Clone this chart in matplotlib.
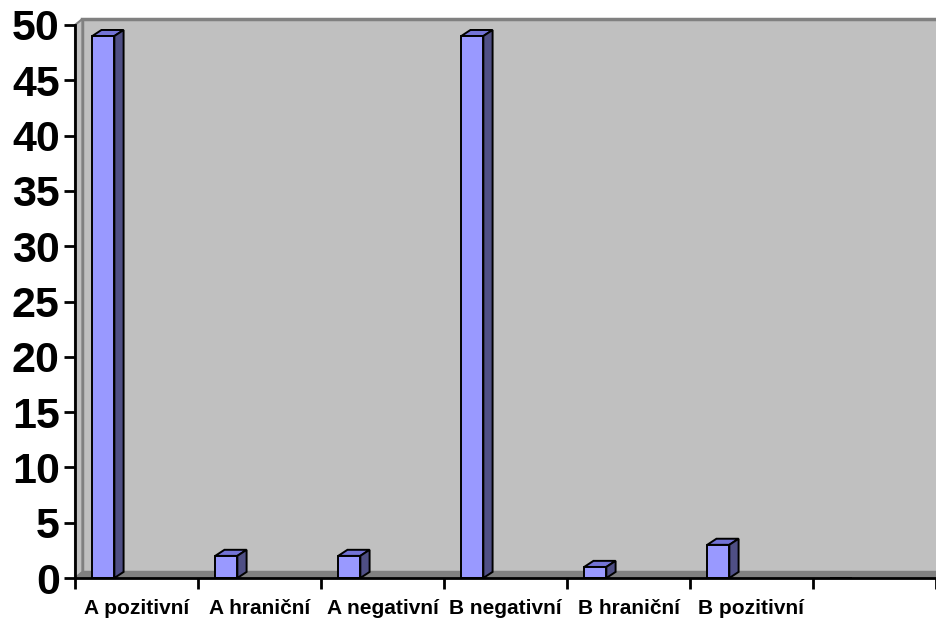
import numpy as np
import matplotlib.pyplot as plt
from matplotlib.patches import Polygon

plt.rcParams['font.family'] = ['Liberation Sans', 'DejaVu Sans']

categories = ['A pozitivní', 'A hraniční', 'A negativní', 'B negativní', 'B hraniční', 'B pozitivní', '']
values = [49, 2, 2, 49, 1, 3, 0]
yticks = [0, 5, 10, 15, 20, 25, 30, 35, 40, 45, 50]

fig = plt.figure(figsize=(9.36, 6.18), dpi=100)
ax = fig.add_axes([75 / 936, 40 / 618, 861 / 936, 553 / 618])
n = len(categories)
ax.set_xlim(0, n)
ax.set_ylim(0, 50)

# 3d depth offsets (data units)
wdx, wdy = 0.06, 0.55   # wall / floor depth
bdx, bdy = 0.075, 0.55  # bar depth

# back wall, side wall, floor
ax.add_patch(Polygon([(wdx, wdy), (n + 1, wdy), (n + 1, 50 + wdy), (wdx, 50 + wdy)],
                     closed=True, facecolor='#C0C0C0', edgecolor='#808080', lw=2.5,
                     clip_on=False, zorder=0))
ax.add_patch(Polygon([(0, 0), (wdx, wdy), (wdx, 50 + wdy), (0, 50)],
                     closed=True, facecolor='#C0C0C0', edgecolor='#808080', lw=1.5,
                     clip_on=False, zorder=0.5))
ax.add_patch(Polygon([(0, 0), (n + 1, 0), (n + 1, wdy), (wdx, wdy)],
                     closed=True, facecolor='#808080', edgecolor='#808080', lw=1,
                     clip_on=False, zorder=0.6))

x = np.arange(n)
w = 0.18
left = x + 0.14
for xi, v in zip(left, values):
    if v <= 0:
        continue
    ax.add_patch(Polygon([(xi, v), (xi + w, v), (xi + w + bdx, v + bdy), (xi + bdx, v + bdy)],
                         closed=True, facecolor='#7373D6', edgecolor='black', lw=1.4,
                         clip_on=False, zorder=2))
    ax.add_patch(Polygon([(xi + w, 0), (xi + w + bdx, bdy), (xi + w + bdx, v + bdy), (xi + w, v)],
                         closed=True, facecolor='#4F4F85', edgecolor='black', lw=1.4,
                         clip_on=False, zorder=2))
ax.bar(left, values, width=w, align='edge', color='#9999FF', edgecolor='black',
       linewidth=1.4, zorder=3)

for s in ['top', 'right']:
    ax.spines[s].set_visible(False)
ax.spines['left'].set_linewidth(2)
ax.spines['bottom'].set_linewidth(2)
ax.spines['left'].set_zorder(5)
ax.spines['bottom'].set_zorder(5)

ax.set_yticks(yticks)
ax.set_yticklabels([str(t) for t in yticks], fontsize=31, fontweight='bold')
ax.tick_params(axis='y', length=8, width=2, pad=3)

ax.set_xticks(np.arange(n + 1))
ax.set_xticklabels([])
ax.tick_params(axis='x', which='major', length=8, width=2)
ax.set_xticks(x + 0.5, minor=True)
ax.set_xticklabels(categories, minor=True, fontsize=15, fontweight='bold')
ax.tick_params(axis='x', which='minor', length=0, pad=15)

fig.savefig('out.png', dpi=100)
